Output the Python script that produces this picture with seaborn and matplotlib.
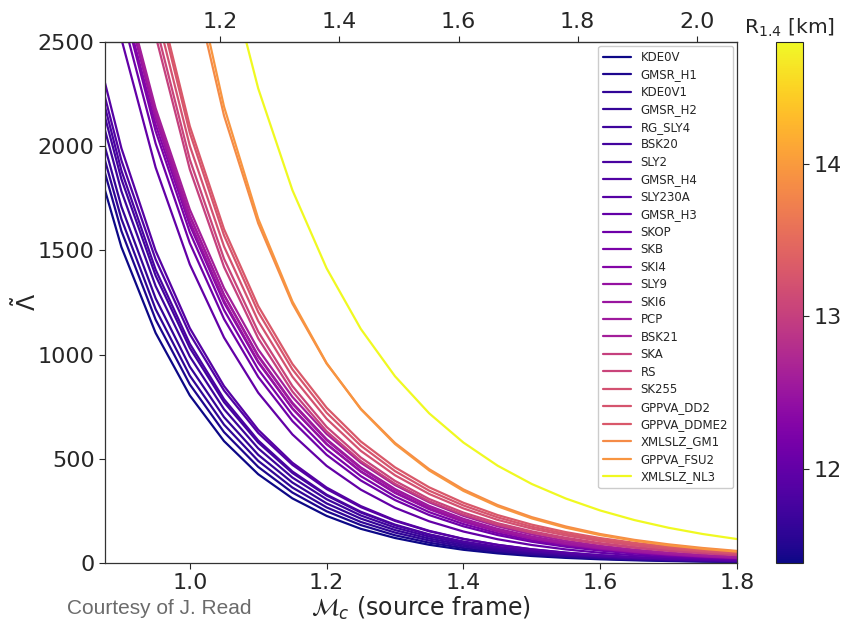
import numpy as np
import pandas as pd
import matplotlib
matplotlib.use("Agg")
import matplotlib.pyplot as plt
import matplotlib.colors as mcolors
import matplotlib.cm as cm
import seaborn as sns

# ---- data -----------------------------------------------------------------
eos_names = ["KDE0V", "GMSR_H1", "KDE0V1", "GMSR_H2", "RG_SLY4", "BSK20", "SLY2",
             "GMSR_H4", "SLY230A", "GMSR_H3", "SKOP", "SKB", "SKI4", "SLY9", "SKI6",
             "PCP", "BSK21", "SKA", "RS", "SK255", "GPPVA_DD2", "GPPVA_DDME2",
             "XMLSLZ_GM1", "GPPVA_FSU2", "XMLSLZ_NL3"]

r14_km = [11.38, 11.47, 11.60, 11.63, 11.70, 11.74, 11.79, 11.85, 11.90, 12.00,
          12.10, 12.20, 12.30, 12.45, 12.50, 12.55, 12.60, 13.00, 13.05, 13.20,
          13.25, 13.30, 13.85, 13.95, 14.80]

mc_grid = [0.85, 0.90, 0.95, 1.00, 1.05, 1.10, 1.15, 1.20, 1.25, 1.30,
           1.35, 1.40, 1.45, 1.50, 1.55, 1.60, 1.65, 1.70, 1.75, 1.80]

lambda_kde0v = [2083, 1516, 1104, 804, 585, 426, 310, 226, 164, 120, 87.4, 63.4, 46.2, 33.6, 24.5, 17.8, 13.0, 9.4, 6.8, 5.0]
lambda_gmsr_h1 = [2172, 1593, 1168, 857, 628, 461, 338, 248, 182, 133, 97.5, 71.6, 52.5, 38.5, 28.2, 20.7, 15.2, 11.1, 8.1, 6.0]
lambda_kde0v1 = [2236, 1651, 1218, 899, 664, 490, 362, 267, 197, 146, 107.8, 79.3, 58.5, 43.2, 31.9, 23.5, 17.3, 12.8, 9.4, 7.0]
lambda_gmsr_h2 = [2304, 1710, 1270, 942, 700, 519, 386, 286, 213, 158, 117.3, 87, 64.6, 47.9, 35.6, 26.4, 19.6, 14.5, 10.8, 8.0]
lambda_rg_sly4 = [2393, 1784, 1329, 991, 738, 550, 410, 306, 228, 170, 126.7, 94.3, 70.3, 52.4, 39.1, 29.1, 21.7, 16.2, 12.1, 9.0]
lambda_bsk20 = [2462, 1842, 1379, 1032, 772, 578, 432, 324, 242, 181, 135.4, 101, 75.6, 56.8, 42.5, 31.8, 23.8, 17.8, 13.3, 10.0]
lambda_sly2 = [2519, 1883, 1408, 1052, 786, 588, 439, 328, 246, 184, 137.5, 103, 77, 57.4, 42.9, 32.1, 24, 17.9, 13.4, 10.0]
lambda_gmsr_h4 = [2563, 1932, 1457, 1098, 828, 624, 471, 355, 268, 202, 152.3, 115, 86.7, 65.2, 49.2, 37.1, 28, 21.1, 15.9, 12.0]
lambda_sly230a = [2643, 1990, 1498, 1127, 849, 639, 481, 362, 273, 205, 154.3, 116, 87.3, 66, 49.7, 37.4, 28.2, 21.2, 16, 12.0]
lambda_gmsr_h3 = [3330, 2514, 1898, 1433, 1082, 817, 617, 466, 352, 265, 200, 151, 114, 86.2, 65.1, 49.1, 37.1, 28.0, 21.1, 16.0]
lambda_skop = [3461, 2639, 2013, 1535, 1171, 893, 681, 519, 396, 302, 230, 176, 134, 102, 77.8, 59.5, 45.4, 34.6, 26.4, 20.1]
lambda_skb = [3540, 2709, 2073, 1587, 1214, 929, 711, 544, 417, 319, 244, 187, 143, 109, 83.4, 64, 49, 37.5, 28.7, 22]
lambda_ski4 = [3546, 2732, 2104, 1621, 1249, 962, 741, 571, 440, 339, 261, 201, 155, 119, 91.7, 70.8, 54.5, 42, 32.4, 24.9]
lambda_sly9 = [3618, 2779, 2134, 1639, 1259, 967, 742, 570, 438, 336, 258, 198, 152, 117, 89.9, 69, 53, 40.7, 31.3, 24]
lambda_ski6 = [3604, 2786, 2153, 1665, 1287, 995, 769, 594, 459, 355, 274, 212, 164, 127, 98.2, 75.8, 58.6, 45.3, 35, 27]
lambda_pcp = [3635, 2803, 2161, 1667, 1285, 991, 764, 589, 454, 350, 270, 208, 160, 124, 95.6, 73.6, 56.8, 43.8, 33.8, 26]
lambda_bsk21 = [3612, 2808, 2182, 1696, 1319, 1025, 797, 619, 481, 374, 291, 226, 176, 137, 106, 82.5, 64.1, 49.8, 38.7, 30]
lambda_ska = [4500, 3420, 2530, 1889, 1421, 1078, 823, 632, 489, 380, 296, 232, 183, 145, 115, 91.5, 73.1, 58.4, 46.9, 37.8]
lambda_rs = [4500, 3481, 2585, 1936, 1460, 1110, 849, 653, 506, 394, 307, 242, 191, 152, 121, 95.4, 76.4, 61.6, 49.5, 40]
lambda_sk255 = [4600, 3549, 2660, 2002, 1519, 1161, 894, 692, 538, 421, 331, 262, 207, 165, 132, 105, 84.7, 68.5, 55.4, 44.9]
lambda_dd2 = [4650, 3640, 2732, 2064, 1572, 1204, 929, 721, 563, 441, 347, 276, 219, 174, 140, 112, 90.3, 73, 59, 48]
lambda_ddme2 = [4700, 3677, 2764, 2096, 1602, 1233, 955, 745, 583, 459, 363, 289, 230, 184, 148, 119.5, 96.9, 78.3, 63.6, 51.9]
lambda_gm1 = [7000, 5300, 3818, 2851, 2147, 1630, 1245, 957, 740, 576, 450, 353, 278, 220, 175, 139, 111, 89.5, 72, 58]
lambda_fsu2 = [7200, 5450, 3942, 2926, 2190, 1652, 1255, 959, 738, 571, 444, 346, 272, 214, 169, 134, 107, 85.2, 68.2, 54.8]
lambda_nl3 = [8700, 6500, 4887, 3761, 2916, 2277, 1789, 1414, 1123, 896, 718, 578, 467, 379, 309, 252, 206, 169, 139, 115]

all_lambdas = [lambda_kde0v, lambda_gmsr_h1, lambda_kde0v1, lambda_gmsr_h2, lambda_rg_sly4,
               lambda_bsk20, lambda_sly2, lambda_gmsr_h4, lambda_sly230a, lambda_gmsr_h3,
               lambda_skop, lambda_skb, lambda_ski4, lambda_sly9, lambda_ski6, lambda_pcp,
               lambda_bsk21, lambda_ska, lambda_rs, lambda_sk255, lambda_dd2, lambda_ddme2,
               lambda_gm1, lambda_fsu2, lambda_nl3]

x_ticks = [1.0, 1.2, 1.4, 1.6, 1.8]
top_ticks = [1.2, 1.4, 1.6, 1.8, 2.0]
y_ticks = [0, 500, 1000, 1500, 2000, 2500]
cbar_ticks = [12, 13, 14]

# ---- build table ------------------------------------------------------------
rows = []
for name, lam in zip(eos_names, all_lambdas):
    for mc, l in zip(mc_grid, lam):
        rows.append({"EOS": name, "Mc": mc, "Lambda": l})
df = pd.DataFrame(rows)

norm = mcolors.Normalize(vmin=min(r14_km), vmax=max(r14_km))
cmap = plt.get_cmap("plasma")
palette = {n: cmap(norm(r)) for n, r in zip(eos_names, r14_km)}

# ---- figure -----------------------------------------------------------------
sns.set_style("ticks")
plt.rcParams["font.family"] = ["DejaVu Sans"]
plt.rcParams["mathtext.fontset"] = "dejavusans"

fig = plt.figure(figsize=(8.42, 6.21), dpi=100)
ax = fig.add_axes([0.1247, 0.0934, 0.7506, 0.839])

sns.lineplot(data=df, x="Mc", y="Lambda", hue="EOS", hue_order=eos_names,
             palette=palette, sort=False, linewidth=1.6, ax=ax, legend=True)

ax.set_xlim(0.876, 1.8)
ax.set_ylim(0, 2500)
ax.set_xticks(x_ticks)
ax.set_yticks(y_ticks)
ax.tick_params(axis="both", labelsize=16, direction="out", length=4, width=0.8)
ax.set_xlabel(r"$\mathcal{M}_c$ (source frame)", fontsize=17, labelpad=1)
ax.set_ylabel(r"$\tilde{\Lambda}$", fontsize=17)
ax.yaxis.set_label_coords(-0.102, 0.5)
for sp in ax.spines.values():
    sp.set_visible(True)
    sp.set_color("#333333")
    sp.set_linewidth(0.9)

f = 2 ** 0.2
sec = ax.secondary_xaxis("top", functions=(lambda x: x * f, lambda x: x / f))
sec.set_xticks(top_ticks)
sec.tick_params(labelsize=16, direction="out", length=4, width=0.8)

handles, labels = ax.get_legend_handles_labels()
leg = ax.legend(handles, labels, loc="upper right", fontsize=8.5, frameon=True,
                labelspacing=0.38, handlelength=2.4, borderaxespad=0.35,
                fancybox=True, edgecolor="#cccccc", framealpha=1.0)
for line in leg.get_lines():
    line.set_linewidth(1.6)

cax = fig.add_axes([0.9216, 0.0934, 0.0321, 0.839])
sm = cm.ScalarMappable(norm=norm, cmap=cmap)
sm.set_array([])
cbar = fig.colorbar(sm, cax=cax)
cbar.set_ticks(cbar_ticks)
cbar.ax.tick_params(labelsize=16, length=4)
cbar.outline.set_linewidth(0.8)
cbar.ax.set_title(r"R$_{1.4}$ [km]", fontsize=14.5, pad=6)

fig.text(0.079, 0.012, "Courtesy of J. Read", fontsize=15, color="#6b6b6b",
         family=["Liberation Sans Narrow", "Liberation Sans", "DejaVu Sans"])

fig.savefig("out.png", dpi=100)
